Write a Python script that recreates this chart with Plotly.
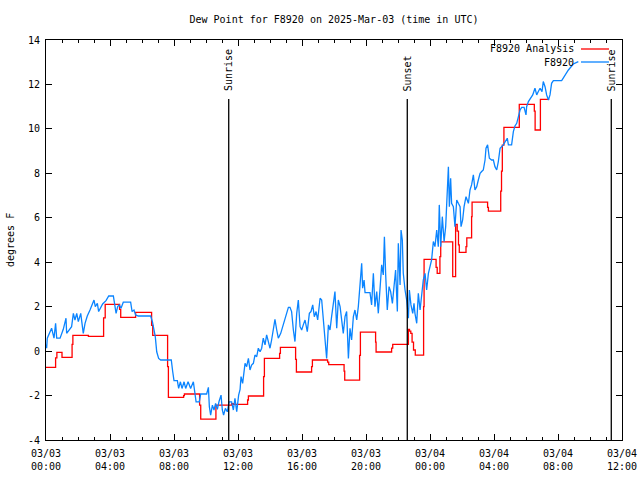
import pandas as pd
import plotly.graph_objects as go

BASE = pd.Timestamp("2025-03-03 00:00")

# Analysis (red): hour offsets from 2025-03-03 00:00 UTC and values (deg F), step-wise
analysis_hours = [0.0, 0.6, 0.68, 1.0, 1.63, 1.68, 2.65, 3.6, 3.7, 4.6, 4.67, 5.6, 6.6, 6.67,
                  7.6, 7.65, 8.6, 8.65, 9.6, 9.67, 10.62, 11.6, 11.7, 12.6, 12.65, 13.6, 13.65,
                  14.6, 14.65, 15.6, 15.65, 16.6, 16.65, 17.6, 17.67, 18.63, 18.67, 19.6, 19.65,
                  20.6, 20.63, 21.6, 21.67, 22.6, 22.65, 22.72, 22.8, 22.88, 22.97, 23.08, 23.6,
                  23.63, 24.38, 24.45, 24.62, 24.67, 25.42, 25.46, 25.6, 25.7, 25.78, 25.83,
                  26.25, 26.3, 26.6, 26.63, 27.6, 27.65, 28.42, 28.47, 28.52, 28.62, 28.67,
                  29.58, 30.52, 30.57, 30.9, 30.95, 31.45]
analysis_vals = [-0.73, -0.3, -0.06, -0.28, 0.3, 0.71, 0.66, 1.5, 2.1, 1.88, 1.52, 1.74, 1.16, 0.71,
                 -0.7, -2.08, -2.0, -1.93, -2.43, -3.06, -2.43, -2.36, -2.4, -2.2, -2.02, -1.15, -0.33,
                 -0.1, 0.17, -0.37, -0.94, -0.7, -0.4, -0.5, -0.61, -0.9, -1.31, -0.19, 0.85,
                 0.4, -0.04, 0.13, 0.3, 0.3, 0.98, 0.9, 0.8, 0.4, 0.05, -0.18, 2.0,
                 4.13, 3.77, 3.5, 4.25, 4.92, 3.35, 3.35, 5.7, 5.4, 4.78, 4.44,
                 4.7, 5.1, 6.05, 6.7, 6.47, 6.3, 7.2, 8.1, 9.27, 10.07, 10.07,
                 11.1, 10.8, 9.95, 11.33, 11.33, 11.33]

# Station observations (blue): hour offsets and values (deg F)
obs_hours = [0.0, 0.04, 0.08, 0.35, 0.5, 0.6, 0.67, 0.88, 1.08, 1.25, 1.29, 1.46, 1.6, 1.71, 1.81,
             1.92, 2.02, 2.17, 2.33, 2.44, 2.58, 2.75, 2.85, 3.0, 3.08, 3.21, 3.29, 3.42, 3.54,
             3.75, 3.92, 4.21, 4.29, 4.38, 4.48, 4.58, 4.69, 4.83, 5.29, 5.38, 5.5, 5.6, 5.77,
             6.54, 6.65, 6.75, 6.83, 6.92, 7.04, 7.17, 7.83, 7.92, 8.0, 8.21, 8.29, 8.4, 8.5,
             8.63, 8.73, 8.88, 9.04, 9.21, 9.29, 9.38, 9.58, 9.67, 10.04, 10.15, 10.21, 10.29,
             10.4, 10.5, 10.6, 10.71, 10.81, 10.94, 11.02, 11.1, 11.21, 11.33, 11.44, 11.6,
             11.71, 11.81, 11.92, 12.04, 12.13, 12.19, 12.29, 12.38, 12.44, 12.54, 12.65,
             12.75, 12.85, 12.96, 13.06, 13.17, 13.27, 13.38, 13.48, 13.58, 13.69, 13.79, 13.9,
             14.0, 14.1, 14.21, 14.31, 14.42, 14.52, 14.67, 14.79, 14.94, 15.04, 15.15, 15.25,
             15.35, 15.46, 15.56, 15.67, 15.77, 15.88, 15.98, 16.08, 16.19, 16.33, 16.46, 16.56,
             16.67, 16.77, 16.88, 16.98, 17.13, 17.23, 17.33, 17.44, 17.54, 17.65, 17.75, 17.85,
             17.96, 18.06, 18.17, 18.27, 18.38, 18.48, 18.58, 18.69, 18.79, 18.9, 19.0, 19.1,
             19.21, 19.31, 19.42, 19.52, 19.63, 19.73, 19.79, 19.88, 19.94, 20.25, 20.35, 20.46,
             20.56, 20.67, 20.77, 20.88, 20.98, 21.08, 21.15, 21.23, 21.33, 21.44, 21.54, 21.65,
             21.75, 21.85, 21.96, 22.02, 22.13, 22.19, 22.27, 22.33, 22.44, 22.54, 22.65, 22.71,
             22.81, 22.92, 23.0, 23.06, 23.17, 23.27, 23.38, 23.48, 23.58, 23.69, 23.79, 23.9,
             24.0, 24.1, 24.21, 24.31, 24.42, 24.52, 24.58, 24.67, 24.77, 24.88, 24.98, 25.08,
             25.15, 25.21, 25.29, 25.35, 25.46, 25.56, 25.67, 25.77, 25.88, 25.94, 26.04, 26.13,
             26.25, 26.4, 26.5, 26.6, 26.71, 26.81, 26.92, 27.02, 27.13, 27.23, 27.33, 27.44,
             27.5, 27.6, 27.71, 27.85, 27.96, 28.06, 28.17, 28.27, 28.38, 28.58, 28.75, 28.83,
             28.9, 29.1, 29.21, 29.31, 29.42, 29.52, 29.63, 29.73, 29.88, 30.0, 30.04, 30.15,
             30.29, 30.42, 30.56, 30.67, 30.77, 30.88, 31.0, 31.08, 31.19, 31.29, 31.4, 31.5,
             31.6, 31.71, 32.23, 32.44, 32.65, 32.96, 33.27]
obs_vals = [0.3, 0.13, 0.58, 1.03, 0.58, 1.25, 0.58, 0.58, 0.98, 1.48, 0.8, 0.95, 1.1, 1.7, 1.4,
            1.7, 1.33, 1.7, 0.8, 1.25, 1.58, 1.85, 2.0, 2.3, 2.0, 2.15, 1.78, 1.93, 2.12,
            2.27, 2.48, 2.48, 2.0, 1.7, 2.0, 2.08, 1.93, 2.2, 2.2, 1.78, 1.85, 1.63, 1.58,
            1.58, 1.33, 0.95, 0.65, -0.03, -0.33, -0.4, -0.4, -0.93, -1.33, -1.33, -1.68, -1.38, -1.68,
            -1.38, -1.68, -1.38, -1.68, -1.38, -1.75, -2.28, -2.28, -1.93, -1.93, -1.63, -2.5, -2.88,
            -2.43, -2.65, -2.35, -2.62, -2.28, -1.98, -2.65, -2.88, -2.58, -2.73, -2.28, -2.28,
            -2.65, -2.13, -2.73, -1.98, -1.72, -1.15, -1.45, -1.0, -0.55, -0.7, -0.33,
            -0.85, -0.63, -0.55, -0.18, -0.25, 0.13, -0.03, 0.13, 0.58, 0.28, 0.73, 0.35,
            0.13, 0.5, 1.1, 1.43, 0.95, 0.58, 0.8, 1.1, 1.4, 1.63, 1.97, 1.97,
            1.78, 0.95, 0.43, 1.7, 2.3, 1.1, 0.95, 1.18, 1.4, 0.88, 1.7, 1.78,
            2.08, 1.55, 1.78, 1.4, 2.38, 2.3, 1.48, 0.58, -0.33, 1.18, 0.95, 1.55,
            2.15, 2.68, 1.03, 2.3, 2.0, 1.25, 0.8, 1.55, 1.78, -0.33, 1.03, 0.5,
            1.55, 1.85, 1.4, 2.0, 3.2, 3.95, 2.83, 3.2, 2.63, 2.63, 2.08, 3.5,
            2.0, 2.68, 1.7, 2.83, 3.88, 3.43, 5.15, 3.43, 1.85, 2.9, 2.68, 2.15,
            3.05, 3.65, 1.78, 4.85, 2.98, 5.45, 5.0, 3.5, 2.75, 2.3, 1.48, 2.75,
            2.08, 1.7, 2.15, 1.7, 1.25, 2.6, 1.85, 2.6, 3.2, 3.5, 2.75, 3.5,
            3.8, 4.1, 4.93, 4.7, 5.45, 4.7, 6.58, 4.7, 6.05, 4.93, 5.6, 7.4,
            8.3, 6.5, 7.78, 6.65, 6.5, 5.6, 6.8, 6.65, 6.5, 5.6, 5.9, 6.5,
            6.95, 6.65, 7.25, 7.48, 7.93, 7.25, 7.4, 7.7, 8.0, 8.08, 8.15, 8.6,
            9.13, 9.28, 8.68, 8.6, 8.6, 8.3, 8.15, 8.53, 9.13, 9.28, 9.5, 9.58,
            9.28, 9.28, 9.88, 10.13, 10.25, 10.55, 10.85, 10.97, 10.97, 10.63, 11.0, 11.23,
            11.38, 11.53, 11.83, 11.53, 11.68, 11.83, 11.68, 12.13, 11.9, 11.53, 11.3, 11.53,
            12.05, 12.17, 12.17, 12.43, 12.65, 12.92, 13.03]

# Sun events (hour offsets)
sun_labels = ["Sunrise", "Sunset", "Sunrise"]
sun_hours = [11.42, 22.58, 35.33]

y_ticks = [-4, -2, 0, 2, 4, 6, 8, 10, 12, 14]

def to_time(hours):
    return [BASE + pd.Timedelta(hours=h) for h in hours]

FONT = "DejaVu Sans Mono"
RED = "#ff0000"
BLUE = "#0a84ff"

fig = go.Figure()
fig.add_trace(go.Scatter(x=to_time(analysis_hours), y=analysis_vals, mode="lines",
                         line=dict(color=RED, width=1.3, shape="hv"), name="F8920 Analysis"))
fig.add_trace(go.Scatter(x=to_time(obs_hours), y=obs_vals, mode="lines",
                         line=dict(color=BLUE, width=1.3), name="F8920"))

for lab, h in zip(sun_labels, sun_hours):
    t = BASE + pd.Timedelta(hours=h)
    fig.add_shape(type="line", x0=t, x1=t, y0=-4, y1=11.35, xref="x", yref="y",
                  line=dict(color="black", width=1.3))
    fig.add_annotation(x=t, y=11.6, xref="x", yref="y", text=lab, textangle=-90,
                       showarrow=False, xanchor="center", yanchor="bottom",
                       font=dict(family=FONT, size=10, color="black"))

# legend drawn manually (gnuplot style: text right, sample on the right)
for i, (name, col) in enumerate([("F8920 Analysis", RED), ("F8920", BLUE)]):
    ypx = 49 + 13 * i
    yp = (440 - ypx) / 400
    fig.add_annotation(x=(576 - 46) / 576, y=yp, xref="paper", yref="paper", text=name,
                       showarrow=False, xanchor="right", yanchor="middle",
                       font=dict(family=FONT, size=10, color="black"))
    fig.add_shape(type="line", x0=(581 - 46) / 576, x1=(609 - 46) / 576, y0=yp, y1=yp,
                  xref="paper", yref="paper", line=dict(color=col, width=1.3))

fig.add_annotation(x=(10 - 46) / 576, y=0.5, xref="paper", yref="paper", text="degrees F",
                   textangle=-90, showarrow=False, xanchor="center", yanchor="middle",
                   font=dict(family=FONT, size=10, color="black"))

fig.update_layout(
    width=640, height=480, autosize=False,
    margin=dict(l=46, r=18, t=40, b=40),
    paper_bgcolor="white", plot_bgcolor="white",
    showlegend=False,
    title=dict(text="Dew Point for F8920 on 2025-Mar-03 (time in UTC)", x=(334) / 640,
               xanchor="center", y=1 - 19 / 480, yanchor="middle",
               font=dict(family=FONT, size=10, color="black")),
    font=dict(family=FONT, size=10, color="black"),
)
fig.update_xaxes(
    type="date", automargin=False,
    range=[BASE, BASE + pd.Timedelta(hours=36)],
    dtick=4 * 3600 * 1000, tick0=BASE, tickformat="%m/%d<br>%H:%M",
    ticks="inside", ticklen=6, tickcolor="black", tickwidth=1, ticklabelstandoff=4,
    minor=dict(dtick=3600 * 1000, ticks="inside", ticklen=3, tickcolor="black", tickwidth=1),
    showline=True, linecolor="black", linewidth=1, mirror="allticks",
    showgrid=False, zeroline=False,
    tickfont=dict(family=FONT, size=10, color="black"),
)
fig.update_yaxes(
    automargin=False,
    range=[-4, 14], tickvals=y_ticks, ticktext=[str(v) for v in y_ticks],
    ticks="inside", ticklen=6, tickcolor="black", tickwidth=1, ticklabelstandoff=3,
    showline=True, linecolor="black", linewidth=1, mirror="allticks",
    showgrid=False, zeroline=False,
    tickfont=dict(family=FONT, size=10, color="black"),
)

fig.write_html("out.html", config={"responsive": False, "displayModeBar": False},
               post_script="document.body.style.margin='0';document.body.style.overflow='hidden';")
